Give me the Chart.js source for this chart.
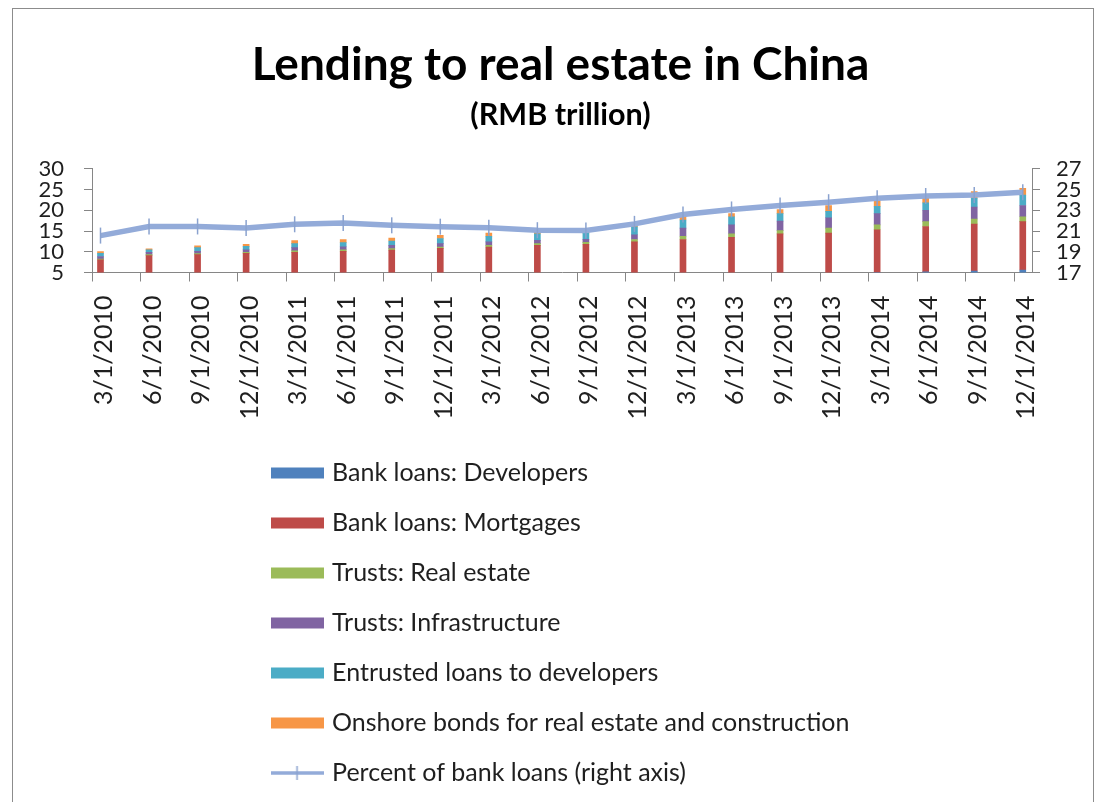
<!DOCTYPE html>
<html>
<head>
<meta charset="utf-8">
<script src="https://cdn.jsdelivr.net/npm/chart.js@4/dist/chart.umd.min.js"></script>
<style>
html, body { margin: 0; padding: 0; background: #ffffff; }
#wrap { position: relative; width: 1103px; height: 802px; overflow: hidden; }
#c { position: absolute; left: 0; top: 0; }
#frame { position: absolute; left: 12px; top: 8px; width: 1080px; height: 820px; border-left: 1px solid #8c8c8c; border-top: 1px solid #8c8c8c; border-right: 1px solid #8c8c8c; pointer-events: none; }
</style>
</head>
<body>
<div id="wrap">
  <canvas id="c" width="1103" height="802"></canvas>
  <div id="frame"></div>
</div>
<script>
// ---- Data ----
const categories = [
  '3/1/2010', '6/1/2010', '9/1/2010', '12/1/2010',
  '3/1/2011', '6/1/2011', '9/1/2011', '12/1/2011',
  '3/1/2012', '6/1/2012', '9/1/2012', '12/1/2012',
  '3/1/2013', '6/1/2013', '9/1/2013', '12/1/2013',
  '3/1/2014', '6/1/2014', '9/1/2014', '12/1/2014'
];
const bankLoansDevelopers = [2.55, 2.7, 2.8, 2.9, 3.05, 3.2, 3.3, 3.4, 3.55, 3.7, 3.85, 4.0, 4.2, 4.4, 4.6, 4.75, 5.0, 5.15, 5.35, 5.6];
const bankLoansMortgages  = [5.5, 6.35, 6.5, 6.7, 6.8, 6.9, 7.1, 7.4, 7.6, 7.85, 7.95, 8.4, 8.75, 9.1, 9.7, 9.75, 10.3, 10.95, 11.35, 11.65];
const trustsRealEstate    = [0.2, 0.25, 0.25, 0.25, 0.35, 0.35, 0.35, 0.35, 0.4, 0.4, 0.45, 0.55, 0.8, 0.8, 0.8, 1.2, 1.2, 1.15, 1.2, 1.2];
const trustsInfrastructure = [0.6, 0.55, 0.55, 0.6, 0.8, 0.75, 0.8, 0.8, 0.85, 0.8, 0.75, 1.15, 1.95, 2.2, 2.3, 2.5, 2.7, 2.75, 2.9, 2.7];
const entrustedLoans      = [0.8, 0.6, 0.9, 0.85, 0.95, 1.0, 1.05, 1.25, 1.35, 1.55, 1.5, 1.9, 1.95, 1.95, 1.8, 1.55, 1.75, 1.8, 2.1, 2.5];
const onshoreBonds        = [0.4, 0.25, 0.4, 0.5, 0.75, 0.75, 0.7, 0.75, 0.75, 0.6, 0.45, 0.5, 0.75, 0.75, 0.95, 1.4, 1.4, 1.1, 1.6, 1.65];
const percentBankLoans    = [20.56, 21.44, 21.44, 21.3, 21.65, 21.78, 21.55, 21.42, 21.32, 21.08, 21.06, 21.69, 22.59, 23.08, 23.47, 23.78, 24.17, 24.38, 24.48, 24.75];

const seriesNames = [
  'Bank loans: Developers',
  'Bank loans: Mortgages',
  'Trusts: Real estate',
  'Trusts: Infrastructure',
  'Entrusted loans to developers',
  'Onshore bonds for real estate and construction',
  'Percent of bank loans (right axis)'
];
const leftTicks = [5, 10, 15, 20, 25, 30];
const rightTicks = [17, 19, 21, 23, 25, 27];

// ---- Styles ----
const barColors = ['#4F81BD', '#BE4B48', '#9BBB59', '#8064A2', '#4BACC6', '#F79646'];
const lineColor = '#93ABD9';
const markColor = '#8AA2CF';
const axisColor = '#868686';
const textColor = '#1f1f1f';
const FONT = 'Lato, "Open Sans", sans-serif';
const tickShift = 0.175; // x tick marks sit a little left of each column

function swatch(color, isLine) {
  const c = document.createElement('canvas');
  c.width = 53; c.height = 16;
  const g = c.getContext('2d');
  if (!isLine) {
    g.fillStyle = color;
    g.fillRect(0, 2.5, 53, 11);
  } else {
    g.strokeStyle = color;
    g.lineWidth = 3.5;
    g.beginPath(); g.moveTo(0, 8); g.lineTo(53, 8); g.stroke();
    g.strokeStyle = markColor;
    g.lineWidth = 1.5;
    g.beginPath(); g.moveTo(26.5, 1); g.lineTo(26.5, 15); g.stroke();
  }
  return c;
}
const swatches = barColors.map(c => swatch(c, false)).concat([swatch(lineColor, true)]);

const barSeries = [bankLoansDevelopers, bankLoansMortgages, trustsRealEstate, trustsInfrastructure, entrustedLoans, onshoreBonds];
const toXY = arr => arr.map((v, i) => ({ x: i, y: v }));

const datasets = barSeries.map((arr, k) => ({
  type: 'bar',
  label: seriesNames[k],
  data: toXY(arr),
  backgroundColor: barColors[k],
  borderWidth: 0,
  barThickness: 6,
  grouped: false,
  yAxisID: 'y',
  clip: 0,
  order: 1
}));
datasets.push({
  type: 'line',
  label: seriesNames[6],
  data: toXY(percentBankLoans),
  yAxisID: 'y2',
  borderColor: lineColor,
  backgroundColor: lineColor,
  borderWidth: 5.5,
  tension: 0,
  pointStyle: 'line',
  pointRotation: 90,
  pointRadius: 8,
  pointBorderWidth: 1.5,
  pointBorderColor: markColor,
  clip: false,
  order: 0
});

// Legend: one entry per row, rows left-aligned inside a block centred under the plot
const legendColumn = {
  id: 'legendColumn',
  beforeLayout(chart) {
    const lg = chart.legend;
    if (!lg || lg._colPatched) return;
    const orig = lg._fitRows;
    lg._fitRows = function (...args) {
      const mw = this.maxWidth;
      this.maxWidth = 0;
      const h = orig.apply(this, args);
      this.maxWidth = mw;
      return h;
    };
    lg._colPatched = true;
  },
  afterLayout(chart) {
    const lg = chart.legend;
    if (!lg || !lg.legendHitBoxes || !lg.legendHitBoxes.length) return;
    const p = lg.options.labels.padding;
    const wmax = Math.max(...lg.legendHitBoxes.map(h => h.width));
    const cx = (chart.chartArea.left + chart.chartArea.right) / 2;
    lg.left = cx - wmax / 2 - p;
    lg.right = cx + wmax / 2 + 1;
    lg.width = lg.right - lg.left;
  }
};

const tickFont = { family: FONT, size: 22 };

new Chart(document.getElementById('c'), {
  data: { datasets },
  plugins: [legendColumn],
  options: {
    responsive: false,
    animation: false,
    layout: { padding: { left: 39, right: 21, top: 10, bottom: 6.5 } },
    plugins: {
      tooltip: { enabled: false },
      title: {
        display: true,
        text: 'Lending to real estate in China',
        color: '#000',
        font: { family: FONT, size: 46, weight: 'bold' },
        padding: { top: 28, bottom: 0 }
      },
      subtitle: {
        display: true,
        text: '(RMB trillion)',
        color: '#000',
        font: { family: FONT, size: 30.5, weight: 'bold' },
        padding: { top: 4, bottom: 35 }
      },
      legend: {
        position: 'bottom',
        fullSize: false,
        align: 'start',
        labels: {
          usePointStyle: true,
          pointStyleWidth: 45,
          boxHeight: 16,
          padding: 25,
          color: textColor,
          font: { family: FONT, size: 25 },
          sort: (a, b) => a.datasetIndex - b.datasetIndex,
          generateLabels(chart) {
            const items = Chart.defaults.plugins.legend.labels.generateLabels(chart);
            items.forEach(it => {
              it.pointStyle = swatches[it.datasetIndex];
              it.rotation = 0;
              it.lineWidth = 0;
            });
            return items;
          }
        }
      }
    },
    scales: {
      x: {
        type: 'linear',
        offset: false,
        min: -tickShift,
        max: categories.length - 1 + 0.19,
        afterBuildTicks(scale) {
          scale.ticks = categories.map((c, i) => ({ value: i - tickShift }));
        },
        afterFit(scale) { scale.height = 163; },
        ticks: {
          autoSkip: false,
          minRotation: 90,
          maxRotation: 90,
          padding: 14,
          labelOffset: 12,
          color: textColor,
          font: { family: FONT, size: 25 },
          callback: (v, i) => categories[i]
        },
        grid: { offset: false, drawOnChartArea: false, drawTicks: true, tickLength: 9, color: axisColor },
        border: { display: true, color: axisColor, width: 1 }
      },
      y: {
        type: 'linear',
        position: 'left',
        stacked: true,
        min: leftTicks[0],
        max: leftTicks[leftTicks.length - 1],
        afterBuildTicks(scale) { scale.ticks = leftTicks.map(v => ({ value: v })); },
        afterFit(scale) { scale.width = 53; },
        ticks: { autoSkip: false, padding: 20, color: textColor, font: tickFont },
        grid: { drawOnChartArea: false, drawTicks: true, tickLength: 8, color: axisColor },
        border: { display: true, color: axisColor, width: 1 }
      },
      y2: {
        type: 'linear',
        position: 'right',
        min: rightTicks[0],
        max: rightTicks[rightTicks.length - 1],
        afterBuildTicks(scale) { scale.ticks = rightTicks.map(v => ({ value: v })); },
        afterFit(scale) { scale.width = 50; },
        ticks: { autoSkip: false, padding: 16, color: textColor, font: tickFont },
        grid: { drawOnChartArea: false, drawTicks: true, tickLength: 8, color: axisColor },
        border: { display: true, color: axisColor, width: 1 }
      }
    }
  }
});
</script>
</body>
</html>
